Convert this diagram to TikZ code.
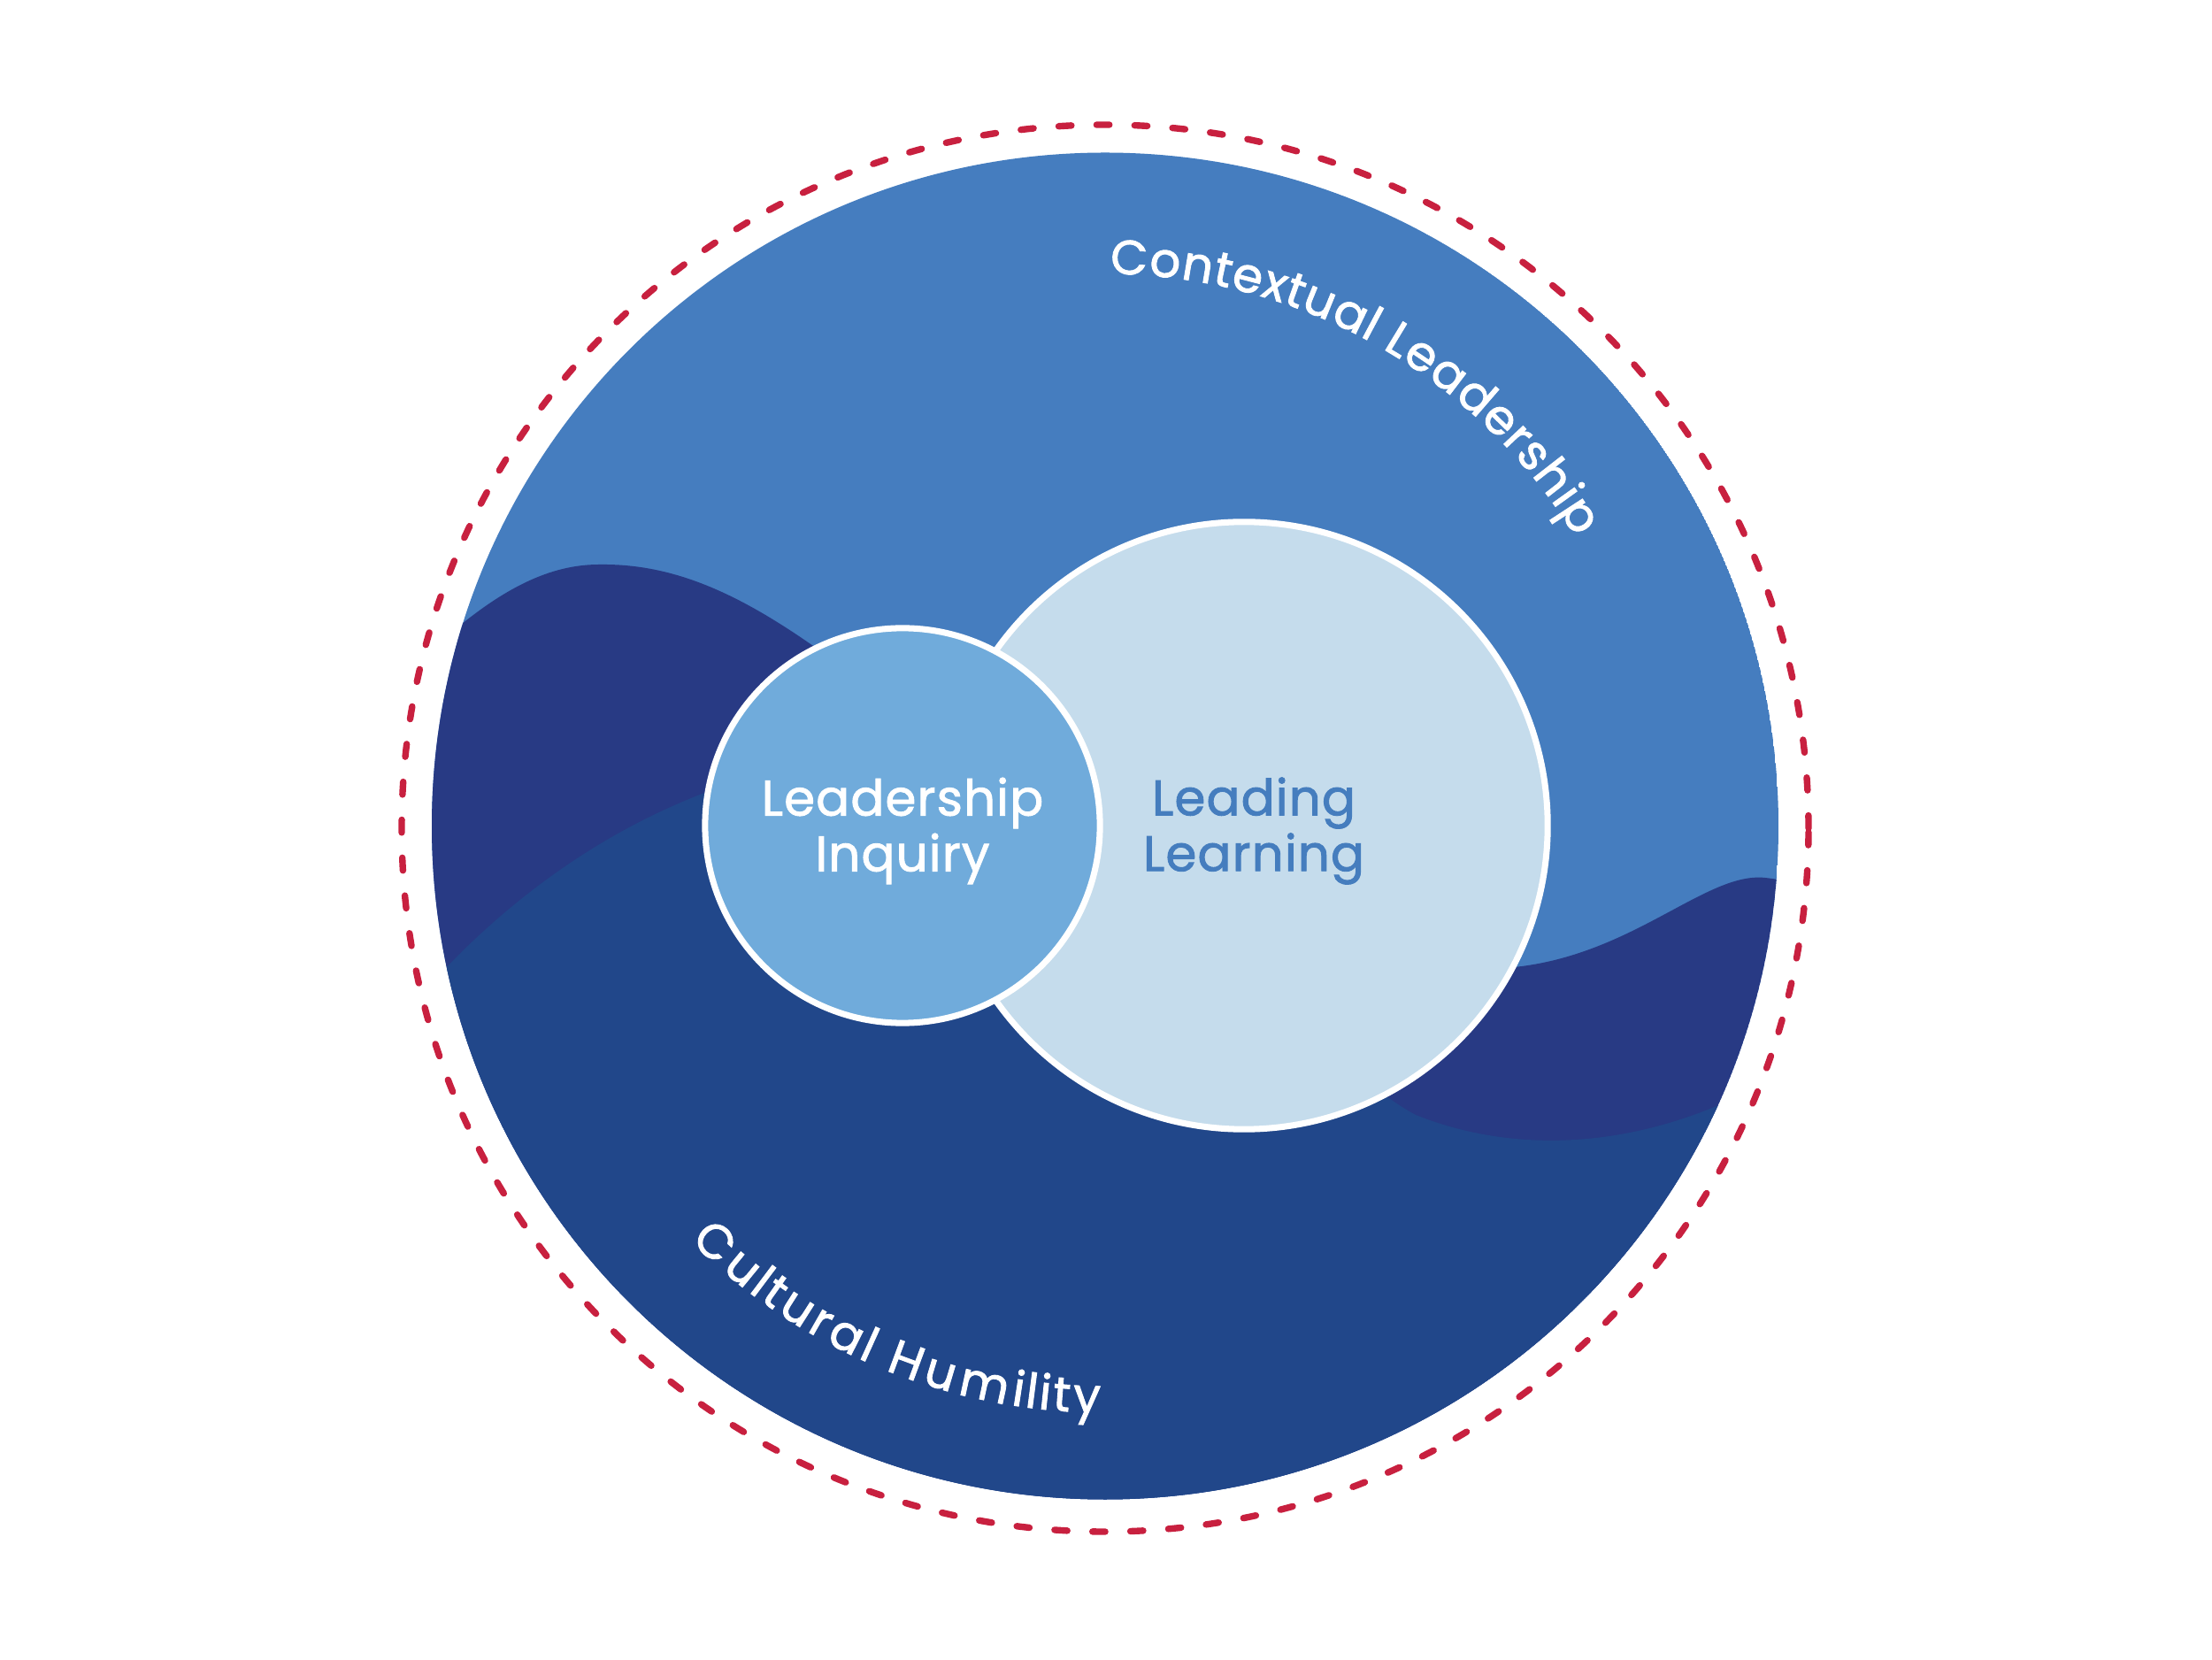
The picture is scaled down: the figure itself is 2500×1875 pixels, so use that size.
\documentclass[tikz,border=0pt]{standalone}
\usepackage{fontspec}
\newfontfamily\lblfont{Poppins}[LetterSpace=2,FakeBold=1.6]
\newfontfamily\arcfont{Poppins}[FakeBold=1.6]
\usetikzlibrary{decorations.text}
\definecolor{topblue}{HTML}{457DBF}
\definecolor{navy}{HTML}{283A84}
\definecolor{midnavy}{HTML}{21478A}
\definecolor{inqblue}{HTML}{70ABDB}
\definecolor{learnbg}{HTML}{C5DCEC}
\definecolor{learntext}{HTML}{457DBE}
\definecolor{dashred}{HTML}{C8203F}
\tikzset{
  innercircle/.style={circle, draw=white, line width=2pt, inner sep=0pt},
  centertext/.style={align=center, font=\lblfont\fontsize{16}{17.9}\selectfont},
  curvechars/.style={text=white, font=\arcfont\fontsize{15.5}{17}\selectfont, inner sep=0pt, anchor=base}
}
\begin{document}
\begin{tikzpicture}[x=0.01cm,y=0.01cm]
\useasboundingbox (0,0) rectangle (2500,1875);
\fill[white] (0,0) rectangle (2500,1875);
\coordinate (O) at (1249,941.5);
\begin{scope}
  \clip (O) circle[radius=761];
  \fill[topblue] (O) circle[radius=761];
  \fill[navy] (430,75) -- (430,1095) -- (440,1095) .. controls (530,1185) and (600,1237) .. (677,1237)
     .. controls (800,1239) and (900,1165) .. (1050,1045)
     .. controls (1250,885) and (1500,755) .. (1720,783)
     .. controls (1850,800) and (1930,890) .. (1995,883)
     .. controls (2040,878) and (2060,865) .. (2100,845) -- (2100,75) -- cycle;
  \fill[midnavy] (430,75) -- (430,695) .. controls (560,865) and (750,1005) .. (1000,1025)
     .. controls (1250,1045) and (1450,695) .. (1600,615)
     .. controls (1700,575) and (1820,575) .. (1940,625)
     .. controls (2000,650) and (2050,695) .. (2100,725) -- (2100,75) -- cycle;
\end{scope}
\draw[dashred, line width=2.1pt, line cap=round, dash pattern=on 4.1pt off 8.1pt] (1249,939) circle[radius=795];
\node[innercircle, fill=learnbg, minimum size=6.86cm] (learn) at (1406,942) {};
\node[innercircle, fill=inqblue, minimum size=4.46cm] (inq) at (1020,942) {};
\node[centertext, text=white, yshift=-0.06cm] (inqtext) at (inq) {Leadership\\Inquiry};
\node[centertext, text=learntext] (learntxt) at (1417,936) {Leading\\Learning};
\path[decorate, decoration={text effects along path,
   text={Contextual Leadership},
   text effects/.cd, text along path, fit text to path,
   characters={curvechars}}]
  (O) ++(89.5:624) arc[start angle=89.5, end angle=31.5, radius=624];
\path[decorate, decoration={text effects along path,
   text={Cultural Humility},
   text effects/.cd, text along path, fit text to path,
   characters={curvechars}}]
  (O) ++(225:663) arc[start angle=225, end angle=269.5, radius=663];
\end{tikzpicture}
\end{document}
